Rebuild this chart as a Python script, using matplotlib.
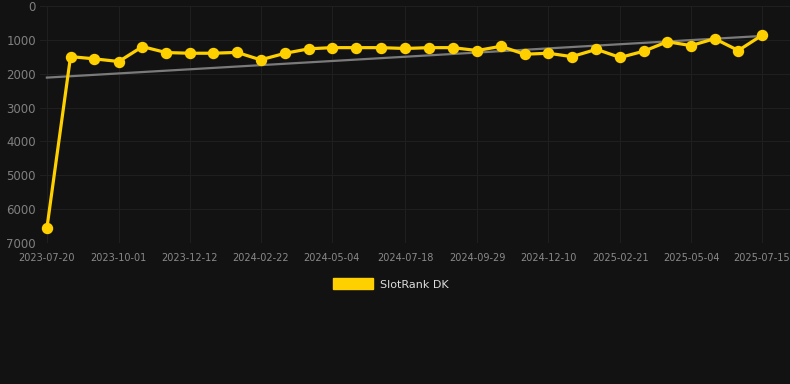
import matplotlib.pyplot as plt
import numpy as np
import pandas as pd

# data (rank, lower is better)
dates = ['2023-07-20', '2023-08-13', '2023-09-06', '2023-10-01', '2023-10-25',
         '2023-11-18', '2023-12-12', '2024-01-05', '2024-01-29', '2024-02-22',
         '2024-03-18', '2024-04-11', '2024-05-04', '2024-05-29', '2024-06-23',
         '2024-07-18', '2024-08-11', '2024-09-04', '2024-09-29', '2024-10-23',
         '2024-11-16', '2024-12-10', '2025-01-03', '2025-01-28', '2025-02-21',
         '2025-03-17', '2025-04-10', '2025-05-04', '2025-05-28', '2025-06-21',
         '2025-07-15']
ranks = [6560, 1495, 1560, 1640, 1200, 1375, 1395, 1395, 1370, 1590,
         1395, 1265, 1230, 1230, 1230, 1255, 1230, 1230, 1315, 1190,
         1425, 1395, 1495, 1280, 1520, 1335, 1055, 1170, 965, 1315,
         865]
trend_start = 2115
trend_end = 885

tick_dates = ['2023-07-20', '2023-10-01', '2023-12-12', '2024-02-22', '2024-05-04',
              '2024-07-18', '2024-09-29', '2024-12-10', '2025-02-21', '2025-05-04',
              '2025-07-15']

bg = '#121212'
yellow = '#ffd000'

x = pd.to_datetime(dates)
tx = pd.to_datetime(tick_dates)

fig = plt.figure(figsize=(7.9, 3.84), dpi=100, facecolor=bg)
ax = fig.add_axes([40 / 790, 1 - 243 / 384, 750 / 790, 237 / 384], facecolor=bg)

ax.plot([x[0], x[-1]], [trend_start, trend_end], color='#7a7a7a', lw=1.6, zorder=2)
ax.plot(x, ranks, color=yellow, lw=2.3, marker='o', ms=7.2, zorder=3,
        label='SlotRank DK')

ax.set_ylim(7000, 0)
ax.set_yticks(np.arange(0, 7001, 1000))
ax.set_xlim(x[0] - pd.Timedelta(days=7), x[-1] + pd.Timedelta(days=28.5))
ax.set_xticks(tx)
ax.set_xticklabels(tick_dates)

ax.grid(True, color='#1f1f1f', lw=0.8)
for s in ax.spines.values():
    s.set_visible(False)
ax.tick_params(axis='both', length=0)
ax.tick_params(axis='x', labelsize=7, colors='#8a8a8a', pad=7)
ax.tick_params(axis='y', labelsize=8.5, colors='#808080', pad=3)

leg = fig.legend(handles=[plt.Rectangle((0, 0), 1, 1, color=yellow)],
                 labels=['SlotRank DK'], loc='center', bbox_to_anchor=(391 / 790, 1 - 284 / 384),
                 frameon=False, fontsize=8, handlelength=3.6, handleheight=1.1,
                 handletextpad=0.6)
for t in leg.get_texts():
    t.set_color('#dddddd')

fig.savefig('out.png', dpi=100, facecolor=bg)
